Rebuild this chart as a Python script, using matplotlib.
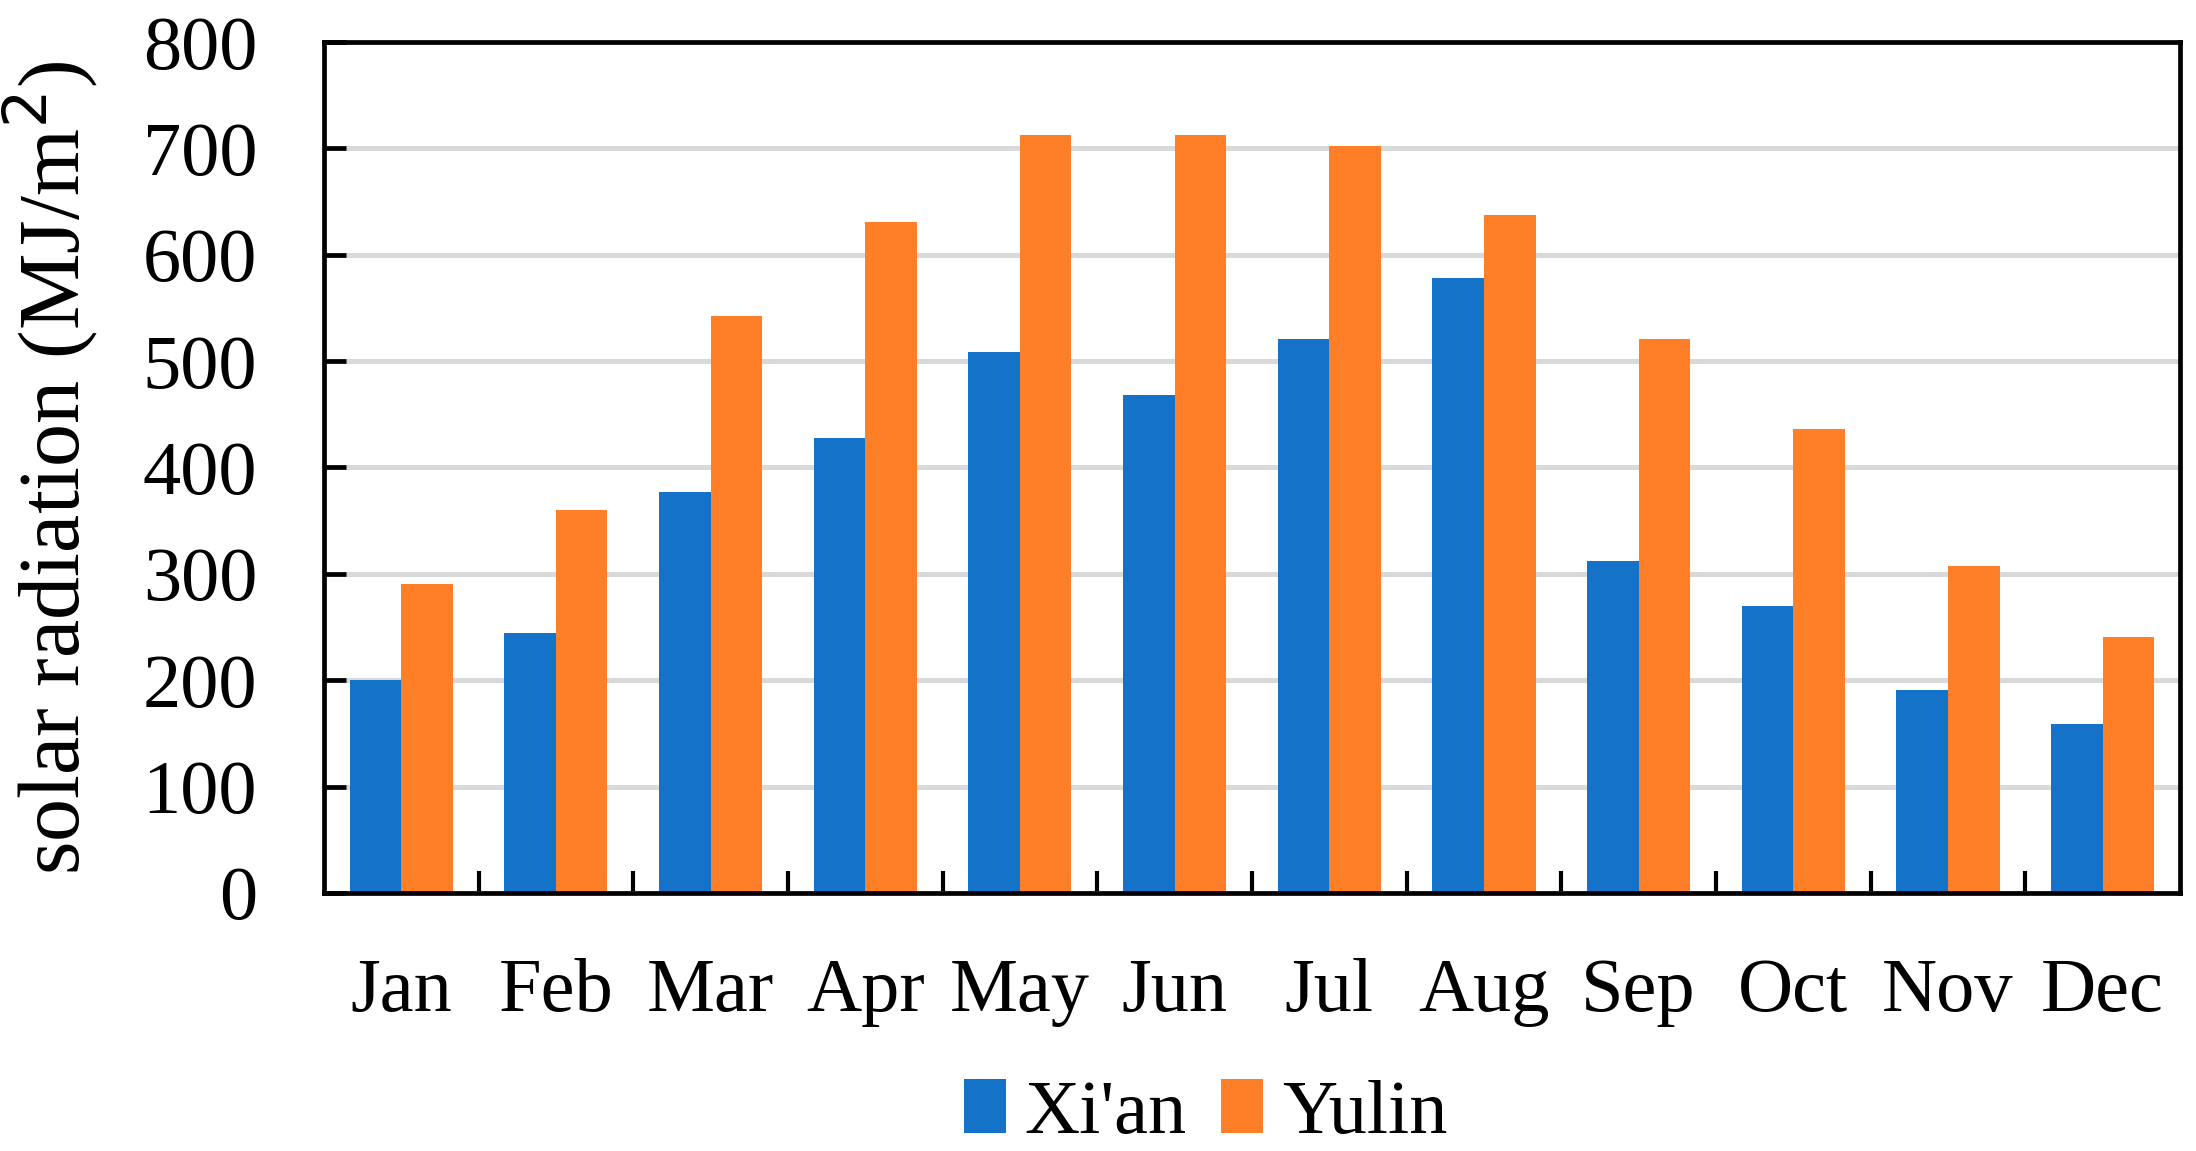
import numpy as np
import matplotlib.pyplot as plt

months = ["Jan", "Feb", "Mar", "Apr", "May", "Jun", "Jul", "Aug", "Sep", "Oct", "Nov", "Dec"]
xian = [200, 244, 377, 428, 509, 468, 521, 578, 312, 270, 191, 159]
yulin = [290, 360, 542, 631, 713, 713, 702, 637, 521, 436, 307, 241]
yticks = [0, 100, 200, 300, 400, 500, 600, 700, 800]


def main():
    plt.rcParams['font.family'] = ['Liberation Serif', 'DejaVu Serif']

    fig = plt.figure(figsize=(21.96, 11.51), dpi=100)
    ax = fig.add_axes([0.1475, 0.2242, 0.8452, 0.7393])

    x = np.arange(len(months))
    w = 1 / 3
    ax.bar(x - w / 2, xian, w, color='#1473C9', label="Xi'an", zorder=3)
    ax.bar(x + w / 2, yulin, w, color='#FE7F27', label="Yulin", zorder=3)

    ax.set_xlim(-0.5, len(months) - 0.5)
    ax.set_ylim(0, 800)
    ax.set_yticks(yticks)
    ax.yaxis.grid(True, color='#d9d9d9', linewidth=3.6, zorder=0)

    # month names centred, tick marks on the group boundaries
    ax.set_xticks(x)
    ax.set_xticklabels(months)
    ax.set_xticks(np.arange(len(months) - 1) + 0.5, minor=True)
    ax.tick_params(axis='x', which='major', length=0, pad=47, labelsize=55)
    ax.tick_params(axis='x', which='minor', direction='in', length=16, width=3)
    ax.tick_params(axis='y', direction='in', length=16, width=3.4, labelsize=55, pad=48)

    for s in ax.spines.values():
        s.set_linewidth(3.4)
        s.set_zorder(4)

    ax.set_ylabel("solar radiation (MJ/m$^2$)", fontsize=62, labelpad=30)

    fig.legend(loc='center', bbox_to_anchor=(0.549, 0.032), ncol=2, frameon=False,
               fontsize=55, handlelength=0.55, handleheight=0.7, handletextpad=0.25,
               columnspacing=0.45)

    fig.savefig("out.png", dpi=100)


if __name__ == "__main__":
    main()
